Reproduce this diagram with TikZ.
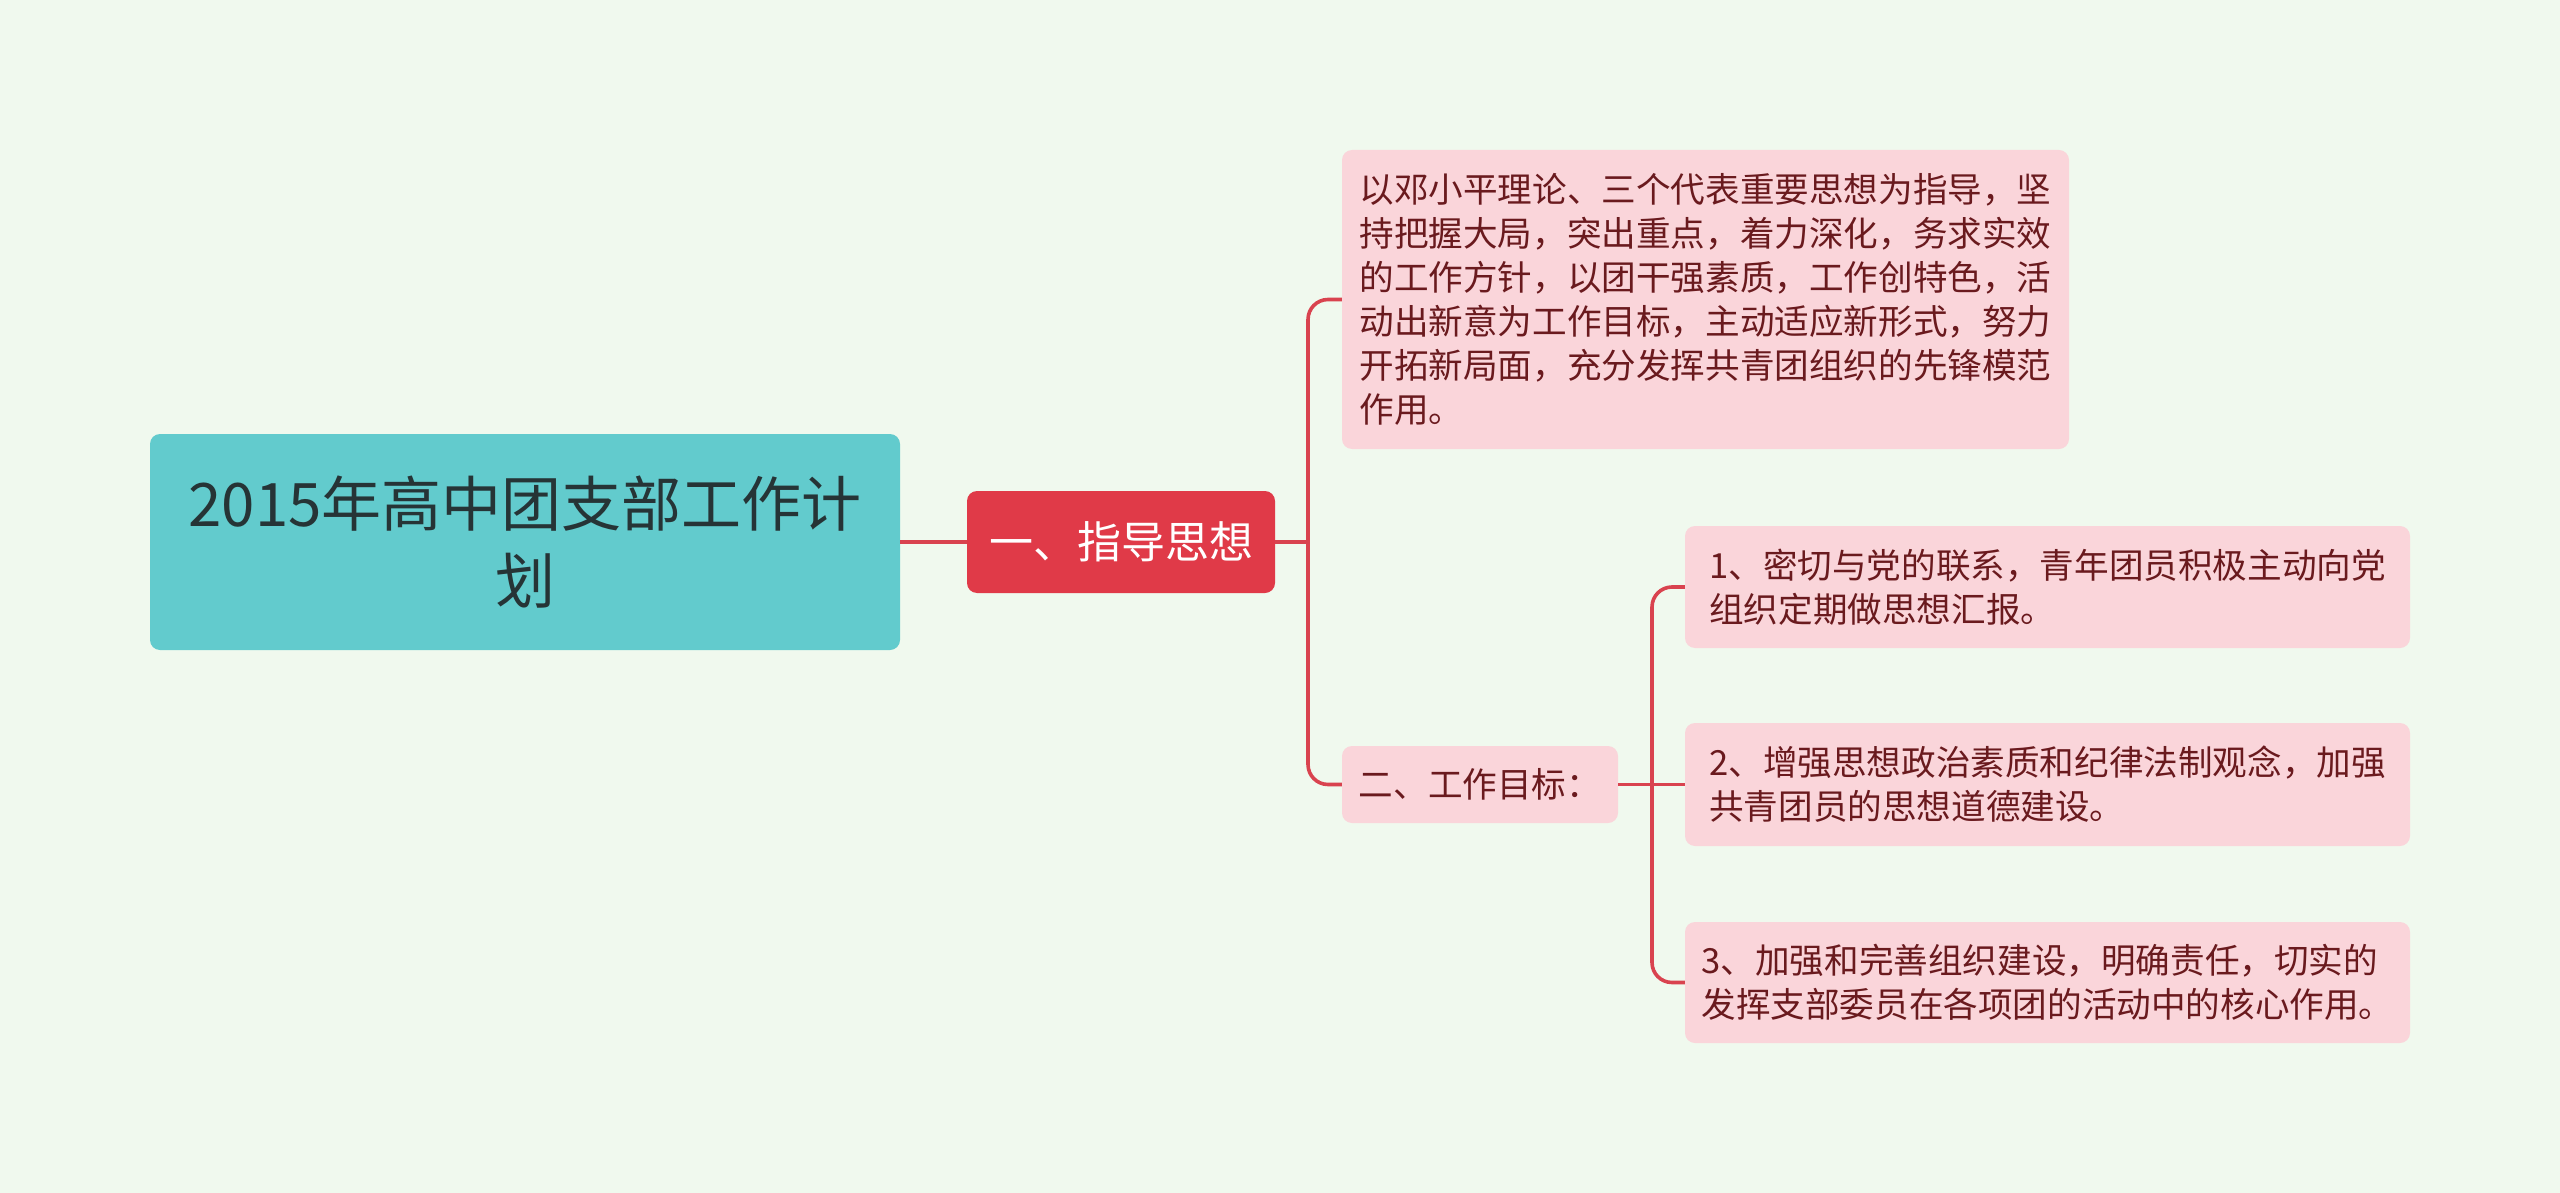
\documentclass[tikz,border=0pt]{standalone}
\usepackage{fontspec}
\newfontfamily\cjk{Noto Sans CJK SC}
\definecolor{bgc}{HTML}{F0F9EE}
\definecolor{rootc}{HTML}{62CBCD}
\definecolor{mainc}{HTML}{E03A48}
\definecolor{subc}{HTML}{FAD5DA}
\definecolor{linec}{HTML}{D9434F}
\definecolor{subtext}{HTML}{6A1A1E}
\definecolor{roottext}{HTML}{263436}
\begin{document}
\begin{tikzpicture}[x=1pt, y=-1pt,
  rootbox/.style={fill=rootc, rounded corners=10pt, minimum width=750pt, minimum height=216pt,
    align=center, text=roottext, font=\cjk\fontsize{60}{77}\selectfont},
  mainbox/.style={fill=mainc, rounded corners=10pt, minimum width=308pt, minimum height=102pt,
    text=white, font=\cjk\fontsize{44}{52}\selectfont},
  subbox/.style={fill=subc, rounded corners=10pt, align=left, inner xsep=15pt,
    text=subtext, font=\cjk\fontsize{34.6}{44}\selectfont},
  link/.style={draw=linec, line width=3.6pt, rounded corners=20pt}
]
\fill[bgc] (0,0) rectangle (2560,1193);
\useasboundingbox (0,0) rectangle (2560,1193);
\node[rootbox] (root) at (525,542) {2015年高中团支部工作计\\划};
\node[mainbox] (guide) at (1121,542) {一、指导思想};
\node[subbox, minimum width=727pt, minimum height=299pt] (idea) at (1705.5,299.5)
  {以邓小平理论、三个代表重要思想为指导，坚\\持把握大局，突出重点，着力深化，务求实效\\的工作方针，以团干强素质，工作创特色，活\\动出新意为工作目标，主动适应新形式，努力\\开拓新局面，充分发挥共青团组织的先锋模范\\作用。};
\node[subbox, minimum width=276pt, minimum height=77pt] (goal) at (1480,784.5) {二、工作目标：};
\node[subbox, minimum width=725pt, minimum height=122pt] (goala) at (2047.5,587)
  {1、密切与党的联系，青年团员积极主动向党\\组织定期做思想汇报。};
\node[subbox, minimum width=725pt, minimum height=123pt] (goalb) at (2047.5,784.5)
  {2、增强思想政治素质和纪律法制观念，加强\\共青团员的思想道德建设。};
\node[subbox, minimum width=725pt, minimum height=121pt] (goalc) at (2047.5,982.5)
  {3、加强和完善组织建设，明确责任，切实的\\发挥支部委员在各项团的活动中的核心作用。};
\coordinate (fork1) at (1308,542);
\coordinate (fork2) at (1652,784.5);
\draw[link] (root.east) -- (guide.west);
\draw[link] (guide.east) -- (fork1);
\draw[link] (idea.west) -| (fork1) |- (goal.west);
\draw[link] (goal.east) -- (goalb.west);
\draw[link] (goala.west) -| (fork2) |- (goalc.west);
\end{tikzpicture}
\end{document}
